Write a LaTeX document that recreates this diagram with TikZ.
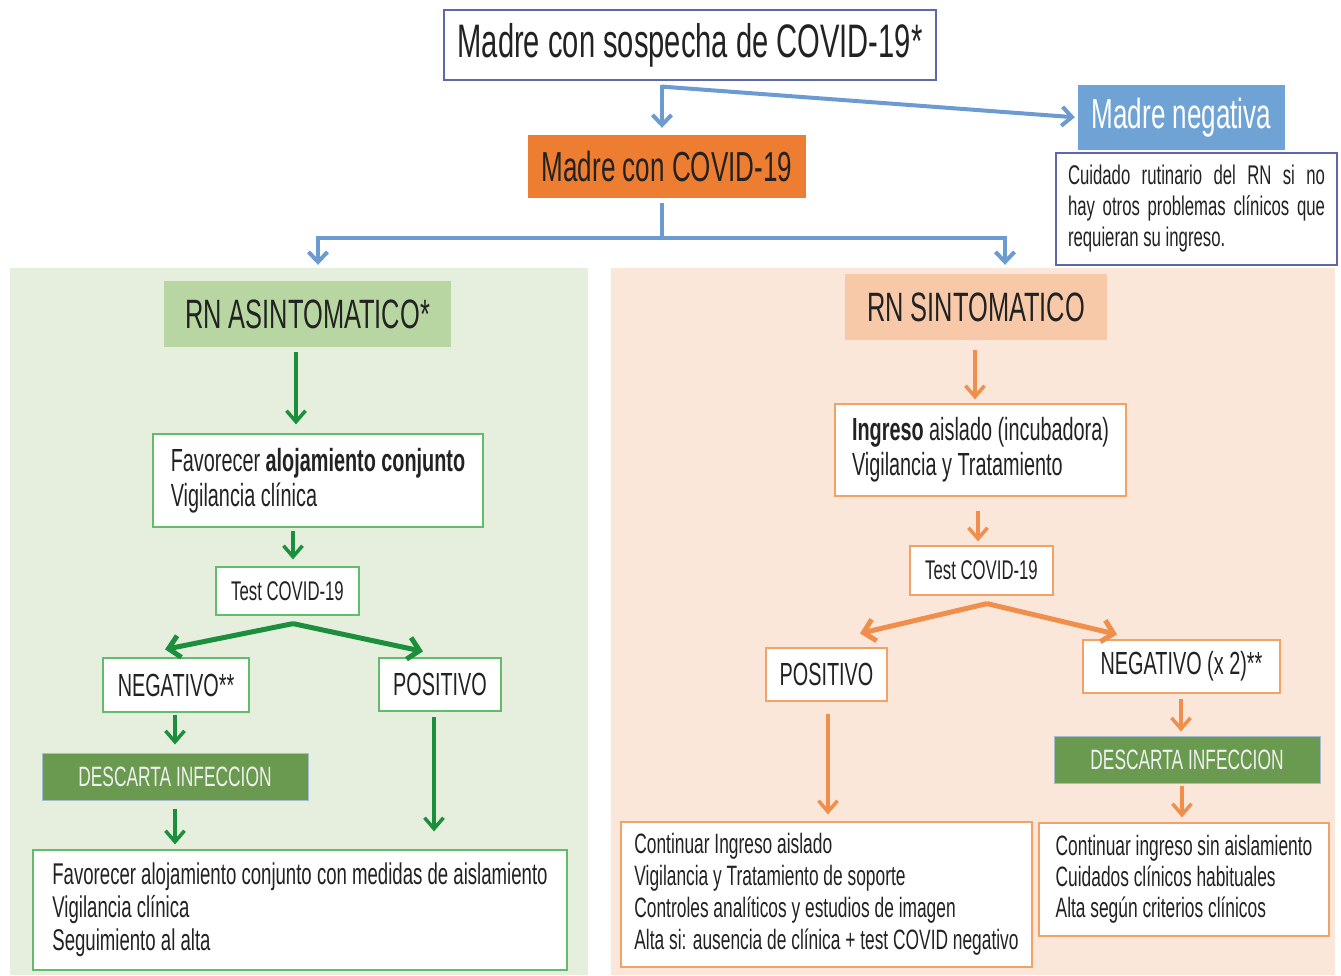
\documentclass[tikz,border=0pt]{standalone}
\usepackage{fontspec}
\setmainfont{Liberation Sans}[FakeStretch=0.62]
\usepackage{xcolor}
\usetikzlibrary{positioning,arrows.meta}

\definecolor{bluec}{HTML}{6C9BD2}
\definecolor{bluefill}{HTML}{6FA3D6}
\definecolor{titleline}{HTML}{5D67AE}
\definecolor{covidfill}{HTML}{ED7D31}
\definecolor{greenpanel}{HTML}{E6EFDD}
\definecolor{peachpanel}{HTML}{FBE6DA}
\definecolor{greenhead}{HTML}{B8D6A2}
\definecolor{peachhead}{HTML}{F8C9A9}
\definecolor{greenc}{HTML}{1C8F3D}
\definecolor{orangec}{HTML}{EF8F4B}
\definecolor{gboxline}{HTML}{62BC6C}
\definecolor{oboxline}{HTML}{F2A266}
\definecolor{descfill}{HTML}{6A9A4F}
\definecolor{descline}{HTML}{A7BBCF}
\definecolor{textc}{HTML}{222222}

\begin{document}
\begin{tikzpicture}[
    x=1pt, y=-1pt,
    panel/.style={
        inner sep=0pt,
        minimum height=707pt
    },
    box/.style={
        draw,
        fill=white,
        inner sep=0pt,
        align=left,
        text=textc
    },
    greenbox/.style={
        box,
        draw=gboxline,
        line width=1.2pt
    },
    orangebox/.style={
        box,
        draw=oboxline,
        line width=1.2pt
    },
    headbox/.style={
        inner sep=0pt,
        text=textc,
        font=\fontsize{41}{44}\selectfont
    },
    descarta/.style={
        draw=descline,
        line width=1pt,
        fill=descfill,
        inner sep=0pt,
        minimum width=266pt,
        minimum height=47pt,
        text=white!94!black,
        font=\fontsize{28}{30}\selectfont
    },
    barrow/.style={
        draw=bluec,
        line width=4pt,
        -{Straight Barb[length=10pt,width=19pt]}
    },
    bline/.style={
        draw=bluec,
        line width=4pt
    },
    garrow/.style={
        draw=greenc,
        line width=3.5pt,
        -{Straight Barb[length=11pt,width=19pt]}
    },
    oarrow/.style={
        draw=orangec,
        line width=3.5pt,
        -{Straight Barb[length=11pt,width=19pt]}
    },
    splitarrow/.style={
        line width=5pt,
        -{Straight Barb[length=11pt,width=22pt]}
    }
]

\fill[white] (0,0) rectangle (1341,975);
\useasboundingbox (0,0) rectangle (1341,975);

\node[panel, fill=greenpanel, minimum width=578pt] (panelA) at (299,621.5) {};

\node[panel, fill=peachpanel, minimum width=724pt] (panelS) at (973,621.5) {};

\node[box, draw=titleline, line width=1.2pt, minimum width=492pt, minimum height=70pt,
      font=\fontsize{47}{50}\selectfont] (title) at (690,45) {Madre con sospecha de COVID-19*};

\node[headbox, fill=covidfill, minimum width=278pt, minimum height=63pt,
      font=\fontsize{42}{45}\selectfont] (covid) at (667,166.5) {Madre con COVID-19};

\node[headbox, fill=bluefill, text=white, minimum width=207pt, minimum height=65pt,
      font=\fontsize{42}{45}\selectfont] (negM) at (1181.5,117.5) {Madre negativa};

\node[box, draw=titleline, line width=1.2pt, minimum width=281pt, minimum height=112pt,
      text width=257pt, align=justify, inner xsep=12pt,
      font=\fontsize{27}{31}\selectfont] (cuid) at (1196.5,209)
      {Cuidado rutinario del RN si no\linebreak hay otros problemas clínicos que\linebreak requieran su ingreso.};

\node[headbox, fill=greenhead, minimum width=287pt, minimum height=66pt] (rnA) at (307.5,314) {RN ASINTOMATICO*};

\node[greenbox, minimum width=330pt, minimum height=93pt,
      font=\fontsize{32}{35}\selectfont] (fav) at (318,480.5)
      {Favorecer \textbf{alojamiento conjunto}\\Vigilancia clínica};

\node[greenbox, minimum width=143pt, minimum height=48pt,
      font=\fontsize{27}{29}\selectfont] (testA) at (287.5,591) {Test COVID-19};

\node[greenbox, minimum width=146pt, minimum height=54pt,
      font=\fontsize{32}{34}\selectfont] (negA) at (176,685) {NEGATIVO**};

\node[greenbox, minimum width=122pt, minimum height=53pt,
      font=\fontsize{32}{34}\selectfont] (posA) at (440,684.5) {POSITIVO};

\node[descarta] (descA) at (175,776.5) {DESCARTA INFECCION};

\node[greenbox, minimum width=534pt, minimum height=120pt,
      font=\fontsize{30}{33}\selectfont] (endA) at (300,910)
      {Favorecer alojamiento conjunto con medidas de aislamiento\\Vigilancia clínica\\Seguimiento al alta};

\node[headbox, fill=peachhead, minimum width=262pt, minimum height=66pt] (rnS) at (976,307) {RN SINTOMATICO};

\node[orangebox, minimum width=291pt, minimum height=92pt,
      font=\fontsize{32}{35}\selectfont] (ingS) at (980.5,450)
      {\textbf{Ingreso} aislado (incubadora)\\Vigilancia y Tratamiento};

\node[orangebox, minimum width=143pt, minimum height=49pt,
      font=\fontsize{27}{29}\selectfont] (testS) at (981.5,570.5) {Test COVID-19};

\node[orangebox, minimum width=121pt, minimum height=53pt,
      font=\fontsize{32}{34}\selectfont] (posS) at (826.5,674.5) {POSITIVO};

\node[orangebox, minimum width=197pt, minimum height=53pt,
      font=\fontsize{32}{34}\selectfont] (negS) at (1181.5,666.5) {NEGATIVO (x 2)**};

\node[descarta] (descS) at (1187,759.5) {DESCARTA INFECCION};

\node[orangebox, minimum width=411pt, minimum height=145pt,
      font=\fontsize{28}{32}\selectfont] (endS1) at (826.5,894.5)
      {Continuar Ingreso aislado\\Vigilancia y Tratamiento de soporte\\Controles analíticos y estudios de imagen\\Alta si: ausencia de clínica + test COVID negativo};

\node[orangebox, minimum width=290pt, minimum height=113pt,
      font=\fontsize{28}{31}\selectfont] (endS2) at (1184,879.5)
      {Continuar ingreso sin aislamiento\\Cuidados clínicos habituales\\Alta según criterios clínicos};

\draw[barrow] ([xshift=-28pt,yshift=-4pt]title.south) -- ([xshift=-5pt,yshift=7pt]covid.north);

\draw[barrow, shorten >=3pt] ([xshift=-28pt,yshift=-6pt]title.south) -- (negM.west);

\coordinate (csplit) at ([xshift=-5pt,yshift=-40pt]covid.south);

\draw[bline] ([xshift=-5pt,yshift=-5pt]covid.south) -- (csplit);

\draw[barrow] (csplit) -| ([xshift=19pt,yshift=3pt]panelA.north);

\draw[barrow] (csplit) -| ([xshift=32pt,yshift=3pt]panelS.north);

\draw[garrow] ([xshift=-11.5pt,yshift=-5pt]rnA.south) -- ([xshift=-22pt,yshift=9pt]fav.north);

\draw[garrow] ([xshift=-25pt,yshift=-3pt]fav.south) -- ([xshift=5.5pt,yshift=7pt]testA.north);

\draw[garrow, splitarrow] ([xshift=5.5pt,yshift=-8pt]testA.south) -- ([xshift=-11pt,yshift=8pt]negA.north);

\draw[garrow, splitarrow] ([xshift=5.5pt,yshift=-8pt]testA.south) -- ([xshift=-17pt,yshift=6pt]posA.north);

\draw[garrow] ([xshift=-1pt,yshift=-2pt]negA.south) -- ([yshift=8pt]descA.north);

\draw[garrow] ([yshift=-8pt]descA.south) -- ([xshift=-125pt,yshift=5pt]endA.north);

\draw[garrow] ([xshift=-6pt,yshift=-5pt]posA.south) -- ([xshift=134pt,yshift=18pt]endA.north);

\draw[oarrow] ([xshift=-1pt,yshift=-10pt]rnS.south) -- ([xshift=-5.5pt,yshift=4pt]ingS.north);

\draw[oarrow] ([xshift=-2.5pt,yshift=-14pt]ingS.south) -- ([xshift=-3.5pt,yshift=4pt]testS.north);

\draw[oarrow, splitarrow] ([xshift=5.5pt,yshift=-8pt]testS.south) -- ([xshift=33.5pt,yshift=14pt]posS.north);

\draw[oarrow, splitarrow] ([xshift=5.5pt,yshift=-8pt]testS.south) -- ([xshift=-64.5pt,yshift=5pt]negS.north);

\draw[oarrow] ([xshift=-0.5pt,yshift=-5pt]negS.south) -- ([xshift=-6pt,yshift=4pt]descS.north);

\draw[oarrow] ([xshift=-5pt,yshift=-2pt]descS.south) -- ([xshift=-2pt,yshift=5pt]endS2.north);

\draw[oarrow] ([xshift=1.5pt,yshift=-12pt]posS.south) -- ([xshift=1.5pt,yshift=7pt]endS1.north);

\end{tikzpicture}
\end{document}
